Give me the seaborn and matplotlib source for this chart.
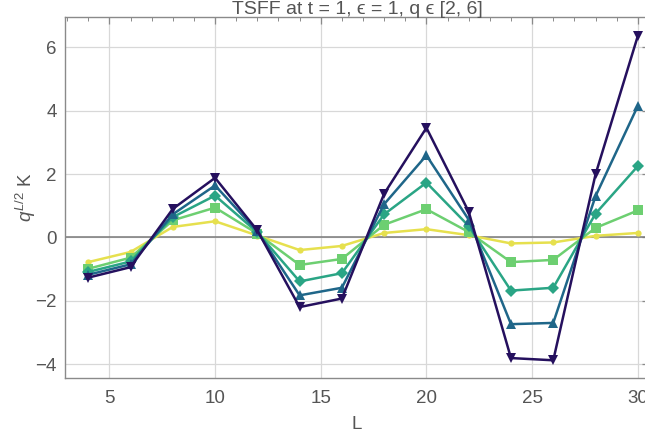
import numpy as np
import pandas as pd
import matplotlib
matplotlib.use("Agg")
import matplotlib.pyplot as plt
import seaborn as sns
from matplotlib.ticker import MultipleLocator

# System sizes
L = [4, 6, 8, 10, 12, 14, 16, 18, 20, 22, 24, 26, 28, 30]

# Scaled form factor q^{L/2} K for each q
k_q2 = [-0.78, -0.46, 0.33, 0.51, 0.06, -0.40, -0.27, 0.14, 0.26, 0.07, -0.19, -0.16, 0.05, 0.14]
k_q3 = [-0.99, -0.64, 0.54, 0.94, 0.12, -0.87, -0.68, 0.40, 0.89, 0.17, -0.78, -0.71, 0.30, 0.85]
k_q4 = [-1.09, -0.76, 0.64, 1.32, 0.16, -1.39, -1.13, 0.73, 1.73, 0.36, -1.68, -1.59, 0.75, 2.25]
k_q5 = [-1.18, -0.85, 0.73, 1.64, 0.19, -1.83, -1.59, 1.05, 2.59, 0.56, -2.74, -2.70, 1.30, 4.15]
k_q6 = [-1.27, -0.94, 0.90, 1.88, 0.22, -2.20, -1.93, 1.38, 3.46, 0.81, -3.81, -3.88, 1.99, 6.36]

q_values = [2, 3, 4, 5, 6]
colors = ["#e6e04e", "#6dcf71", "#2aa585", "#1f6689", "#25105e"]
markers = ["o", "s", "D", "^", "v"]
msizes = [4.5, 6.5, 6, 7, 7.5]

df = pd.DataFrame({
    "L": L * 5,
    "K": k_q2 + k_q3 + k_q4 + k_q5 + k_q6,
    "q": np.repeat(q_values, len(L)),
})

sns.set_theme(style="white")
plt.rcParams["font.family"] = ["Liberation Sans", "DejaVu Sans"]
plt.rcParams["mathtext.fontset"] = "custom"
plt.rcParams["mathtext.rm"] = "Liberation Sans"
plt.rcParams["mathtext.it"] = "Liberation Sans:italic"

fig = plt.figure(figsize=(6.45, 4.33), dpi=100)
W, H = 645, 433
left, right, top, bottom = 65, 649, 17.3, 377.7
ax = fig.add_axes([left / W, 1 - bottom / H, (right - left) / W, (bottom - top) / H])

frame_gray = "#8a8a8a"
text_gray = "#555555"

ax.axhline(0, color="#7a7a7a", lw=1.1, zorder=1)

for q, c, m, ms in zip(q_values, colors, markers, msizes):
    sub = df[df["q"] == q]
    sns.lineplot(data=sub, x="L", y="K", ax=ax, color=c, lw=1.8,
                 marker=m, markersize=ms, markeredgewidth=0, zorder=3 + q,
                 legend=False)

ax.set_xlim(2.9, 30.53)
ax.set_ylim(-4.43, 6.95)

ax.xaxis.set_major_locator(MultipleLocator(5))
ax.xaxis.set_minor_locator(MultipleLocator(1))
ax.yaxis.set_major_locator(MultipleLocator(2))
ax.yaxis.set_minor_locator(MultipleLocator(0.5))

ax.grid(True, which="major", color="#d8d8d8", lw=0.9, zorder=0)
ax.set_axisbelow(True)

for s in ax.spines.values():
    s.set_color(frame_gray)
    s.set_linewidth(1.0)

ax.tick_params(which="both", direction="in", top=True, right=True,
               color=frame_gray, labelcolor=text_gray, labelsize=13.5)
ax.tick_params(which="major", length=5, width=0.9, pad=6)
ax.tick_params(axis="x", which="major", pad=9)
ax.tick_params(which="minor", length=3, width=0.7)
ax.set_yticks([-4, -2, 0, 2, 4, 6])
ax.set_yticklabels(["\u22124", "\u22122", "0", "2", "4", "6"])

ax.set_xlabel("L", color=text_gray, fontsize=13.5, labelpad=6)
ax.set_ylabel(r"$q^{L/2}$ K", color=text_gray, fontsize=13.5, labelpad=-2)
ax.set_title("TSFF at t = 1, \u03f5 = 1, q \u03f5 [2, 6]", color=text_gray,
             fontsize=14, pad=0, y=1.0, va="baseline")
ax.title.set_position((0.5, 1.0 + 3.0 / (bottom - top)))

fig.savefig("out.png", dpi=100)
